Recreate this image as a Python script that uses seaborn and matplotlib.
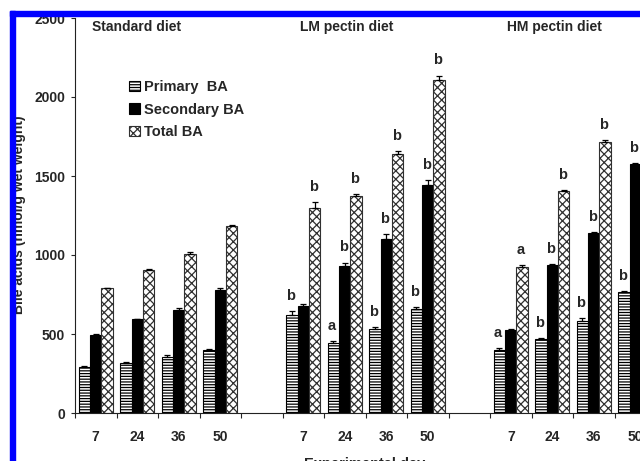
import matplotlib
matplotlib.use('Agg')
import matplotlib.pyplot as plt
from matplotlib.patches import Patch, Rectangle
import pandas as pd
import seaborn as sns

# data (nmol/g wet weight), days 7 / 24 / 36 / 50
days = ['7', '24', '36', '50']
diets = ['Standard diet', 'LM pectin diet', 'HM pectin diet']
ba_types = ['Primary  BA', 'Secondary BA', 'Total BA']

std_primary = [292, 318, 356, 398]
std_secondary = [496, 593, 652, 780]
std_total = [788, 906, 1008, 1182]
lm_primary = [618, 443, 534, 660]
lm_secondary = [680, 932, 1103, 1445]
lm_total = [1300, 1372, 1638, 2106]
hm_primary = [400, 468, 584, 765]
hm_secondary = [524, 938, 1138, 1578]
hm_total = [922, 1403, 1714, 2348]

std_primary_err = [5, 5, 8, 5]
std_secondary_err = [5, 5, 12, 12]
std_total_err = [5, 6, 10, 8]
lm_primary_err = [30, 12, 8, 8]
lm_secondary_err = [10, 20, 30, 30]
lm_total_err = [35, 15, 20, 30]
hm_primary_err = [12, 8, 15, 8]
hm_secondary_err = [5, 5, 5, 5]
hm_total_err = [15, 8, 12, 10]

std_letters = [['', '', '', ''], ['', '', '', ''], ['', '', '', '']]
lm_letters = [['b', 'a', 'b', 'b'], ['', 'b', 'b', 'b'], ['b', 'b', 'b', 'b']]
hm_letters = [['a', 'b', 'b', 'b'], ['', 'b', 'b', 'b'], ['a', 'b', 'b', '']]

values = {'Standard diet': [std_primary, std_secondary, std_total],
          'LM pectin diet': [lm_primary, lm_secondary, lm_total],
          'HM pectin diet': [hm_primary, hm_secondary, hm_total]}
errors = {'Standard diet': [std_primary_err, std_secondary_err, std_total_err],
          'LM pectin diet': [lm_primary_err, lm_secondary_err, lm_total_err],
          'HM pectin diet': [hm_primary_err, hm_secondary_err, hm_total_err]}
letters = {'Standard diet': std_letters, 'LM pectin diet': lm_letters,
           'HM pectin diet': hm_letters}

rows = []
order = []
ticklabels = []
for k, diet in enumerate(diets):
    if k > 0:
        order.append('gap%d' % k)
        ticklabels.append('')
    for j, d in enumerate(days):
        slot = diet + ' ' + d
        order.append(slot)
        ticklabels.append(d)
        for t, ba in enumerate(ba_types):
            rows.append({'slot': slot, 'ba': ba,
                         'value': values[diet][t][j],
                         'err': errors[diet][t][j],
                         'letter': letters[diet][t][j]})
df = pd.DataFrame(rows)

sns.set_style('ticks')
plt.rcParams['font.family'] = ['Liberation Sans', 'DejaVu Sans']
plt.rcParams['font.weight'] = 'bold'
plt.rcParams['hatch.linewidth'] = 0.9

fig = plt.figure(figsize=(6.4, 4.61), dpi=100)
ax = fig.add_axes([75 / 640, 48 / 461, 581 / 640, 395 / 461])

sns.barplot(data=df, x='slot', y='value', hue='ba', order=order,
            hue_order=ba_types, palette=['white', 'black', 'white'],
            width=0.83, errorbar=None, legend=False, ax=ax)

styles = [dict(facecolor='white', edgecolor='black', hatch='------'),
          dict(facecolor='black', edgecolor='black', hatch=None),
          dict(facecolor='white', edgecolor='#303030', hatch='xxxx')]

for t, (ba, cont) in enumerate(zip(ba_types, ax.containers)):
    sub = df[df['ba'] == ba].reset_index(drop=True)
    xs, hs = [], []
    for bar, (_, r) in zip(cont, sub.iterrows()):
        bar.set_facecolor(styles[t]['facecolor'])
        bar.set_edgecolor(styles[t]['edgecolor'])
        bar.set_linewidth(0.8)
        if styles[t]['hatch']:
            bar.set_hatch(styles[t]['hatch'])
        x = bar.get_x() + bar.get_width() / 2
        xs.append(x)
        hs.append(bar.get_height())
        if r['letter']:
            ax.annotate(r['letter'], (x, bar.get_height() + r['err']),
                        xytext=(-1, 8), textcoords='offset points',
                        ha='center', va='baseline', fontsize=10.5,
                        fontweight='bold')
    ax.errorbar(xs, hs, yerr=[[0] * len(xs), list(sub['err'])], fmt='none',
                ecolor='black', elinewidth=0.9, capsize=2.5, capthick=0.9)

# panel titles
for k, diet in enumerate(diets):
    ax.text(order.index(diet + ' 7') - 0.09, 2440, diet, ha='left',
            va='center', fontsize=10, fontweight='bold')

ax.set_ylim(0, 2500)
ax.set_xlim(-0.5, len(order) - 0.5)
ax.set_yticks(range(0, 2501, 500))
ax.set_xticks(range(len(order)))
ax.set_xticklabels(ticklabels, fontsize=10, fontweight='bold')
ax.set_xticks([i - 0.5 for i in range(len(order) + 1)], minor=True)
ax.tick_params(axis='x', which='major', length=0, pad=12)
ax.tick_params(axis='x', which='minor', length=3.5, width=0.8, direction='out')
ax.tick_params(axis='y', length=3, width=0.8, pad=4, labelsize=10)
for lab in ax.get_yticklabels():
    lab.set_fontweight('bold')
ax.set_xlabel('')
ax.set_ylabel('')
sns.despine(ax=ax)
for s in ['left', 'bottom']:
    ax.spines[s].set_linewidth(0.8)
    ax.spines[s].set_color('#222222')

handles = [Patch(**styles[0], linewidth=0.8),
           Patch(facecolor='black', edgecolor='black', linewidth=0.8),
           Patch(**styles[2], linewidth=0.8)]
ax.legend(handles, ba_types, loc='upper left', bbox_to_anchor=(0.081, 0.862),
          frameon=False, borderpad=0, handlelength=0.7,
          handleheight=0.7, handletextpad=0.3, labelspacing=0.6,
          prop={'weight': 'bold', 'size': 10.5})

fig.text(19 / 640, 1 - 215 / 461, 'Bile acids (nmol/g wet weight)',
         rotation=90, ha='center', va='center', fontsize=10, fontweight='bold')
fig.text(365 / 640, 4 / 461, 'Experimental day', ha='center', va='top',
         fontsize=10.5, fontweight='bold')

# blue frame of the original screenshot
fig.add_artist(Rectangle((10 / 640, 1 - 16 / 461), 1, 5 / 461,
                         transform=fig.transFigure, color='#0000ff', zorder=20))
fig.add_artist(Rectangle((10 / 640, 0), 5 / 640, 1 - 11 / 461,
                         transform=fig.transFigure, color='#0000ff', zorder=20))

fig.savefig('out.png', dpi=100)
